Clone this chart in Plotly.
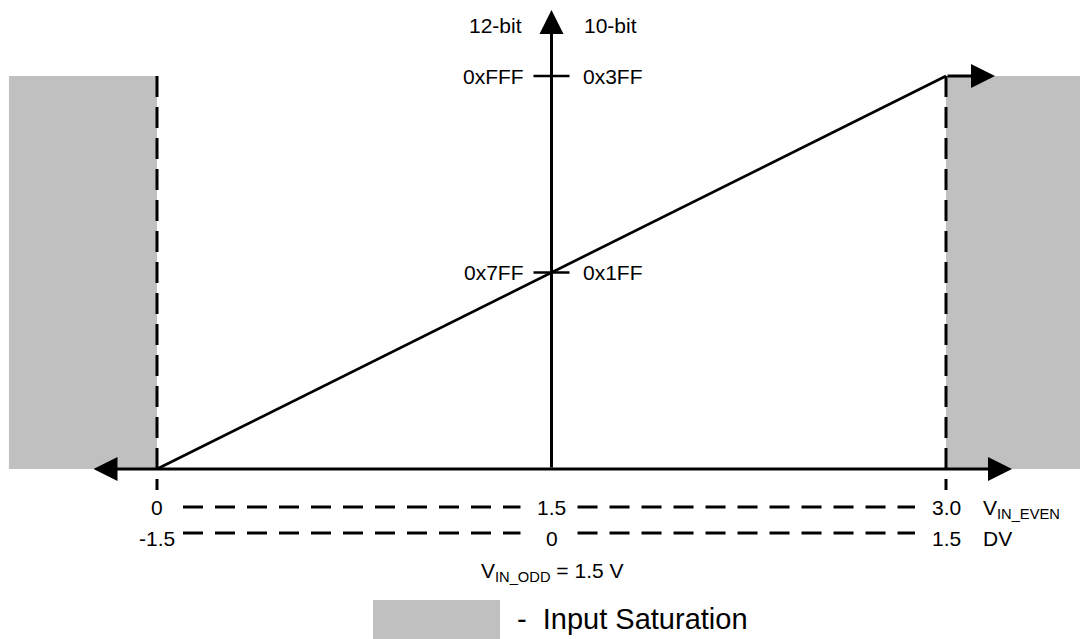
import plotly.graph_objects as go

# input voltage (V_IN_EVEN) and the equivalent differential voltage
vin_even = [0, 1.5, 3.0]
vin_even_labels = ["0", "1.5", "3.0"]
vin_diff_labels = ["-1.5", "0", "1.5"]

# output codes
full_scale = 4095
code_levels = [4095, 2047]
code_12bit = ["0xFFF", "0x7FF"]
code_10bit = ["0x3FF", "0x1FF"]

# transfer function
transfer_x = [0, 3.0]
transfer_y = [0, 4095]

# input saturation regions (V)
sat_left = [-0.563, 0]
sat_right = [3.0, 3.7]

W, H = 1080, 639
PX_X = 263.0             # px per volt
PX_Y = 393.0 / 4095      # px per code
X0, Y0 = 157, 469        # pixel position of (0 V, code 0)


def px_x(p):
    return (p - X0) / PX_X


def px_y(p):
    return (Y0 - p) / PX_Y


FONT = "Liberation Sans, Arial, sans-serif"
BLACK = "#000000"
GRAY = "#c0c0c0"

fig = go.Figure()

# saturation shading
for x0, x1 in (sat_left, sat_right):
    fig.add_shape(type="rect", xref="x", yref="y", x0=x0, x1=x1, y0=0, y1=full_scale,
                  fillcolor=GRAY, line_width=0, layer="below")

# legend swatch
fig.add_shape(type="rect", xref="x", yref="y", x0=px_x(373), x1=px_x(500),
              y0=px_y(600), y1=px_y(660), fillcolor=GRAY, line_width=0, layer="below")

# dashed verticals at the ends of the input range
for xv in (vin_even[0], vin_even[-1]):
    fig.add_trace(go.Scatter(
        x=[xv, xv], y=[full_scale, px_y(490)], mode="lines",
        line=dict(color=BLACK, width=3, dash="21px,10px"), hoverinfo="skip"
    ))

# transfer line
fig.add_trace(go.Scatter(
    x=transfer_x, y=transfer_y, mode="lines",
    line=dict(color=BLACK, width=2.7), hoverinfo="skip"
))

# ticks on the code axis
mid = vin_even[1]
tick_half = 18 / PX_X
tx, ty = [], []
for c in code_levels:
    tx += [mid - tick_half, mid + tick_half, None]
    ty += [c, c, None]
fig.add_trace(go.Scatter(x=tx, y=ty, mode="lines",
                         line=dict(color=BLACK, width=2.5), hoverinfo="skip"))

# dashed guide rows under the axis
gap_l, gap_r = 26 / PX_X, 31 / PX_X
for row_px in (507, 533):
    dx, dy = [], []
    for a, b in zip(vin_even[:-1], vin_even[1:]):
        dx += [a + gap_l, b - gap_r, None]
        dy += [px_y(row_px), px_y(row_px), None]
    fig.add_trace(go.Scatter(x=dx, y=dy, mode="lines",
                             line=dict(color=BLACK, width=3, dash="20px,12px"),
                             hoverinfo="skip"))

arrow = dict(showarrow=True, arrowhead=2, arrowsize=1.6, arrowwidth=3,
             arrowcolor=BLACK, axref="x", ayref="y", xref="x", yref="y",
             text="", standoff=0, startstandoff=0)

# horizontal axis (double arrow)
fig.add_annotation(x=px_x(1012), y=0, ax=px_x(92), ay=0,
                   arrowside="end+start", startarrowhead=2, startarrowsize=1.6, **arrow)
# vertical code axis
fig.add_annotation(x=mid, y=px_y(10), ax=mid, ay=0, **arrow)
# saturated output
fig.add_annotation(x=px_x(995), y=full_scale, ax=transfer_x[-1], ay=full_scale, **arrow)

txt = dict(showarrow=False, xref="x", yref="y",
           font=dict(family=FONT, size=21, color=BLACK))

# axis headers
fig.add_annotation(x=px_x(524), y=px_y(25), text="12-bit", xanchor="right", **txt)
fig.add_annotation(x=px_x(582), y=px_y(25), text="10-bit", xanchor="left", **txt)

# code labels
for c, a, b in zip(code_levels, code_12bit, code_10bit):
    fig.add_annotation(x=mid - 26 / PX_X, y=c, text=a, xanchor="right", **txt)
    fig.add_annotation(x=mid + 29 / PX_X, y=c, text=b, xanchor="left", **txt)

# voltage labels
for v, a, b in zip(vin_even, vin_even_labels, vin_diff_labels):
    fig.add_annotation(x=v, y=px_y(507), text=a, xanchor="center", **txt)
    fig.add_annotation(x=v, y=px_y(538), text=b, xanchor="center", **txt)

fig.add_annotation(x=px_x(981), y=px_y(509), text="V<sub>IN_EVEN</sub>", xanchor="left", **txt)
fig.add_annotation(x=px_x(981), y=px_y(538), text="DV", xanchor="left", **txt)
fig.add_annotation(x=mid, y=px_y(572), text="V<sub>IN_ODD</sub> = 1.5 V", xanchor="center", **txt)

# legend text
fig.add_annotation(x=px_x(515), y=px_y(619), text="-  Input Saturation", xanchor="left",
                   showarrow=False, xref="x", yref="y",
                   font=dict(family=FONT, size=29, color=BLACK))

fig.update_layout(
    width=W, height=H, margin=dict(l=0, r=0, t=0, b=0),
    paper_bgcolor="white", plot_bgcolor="white", showlegend=False,
    xaxis=dict(range=[px_x(0), px_x(W)], visible=False, fixedrange=True),
    yaxis=dict(range=[px_y(H), px_y(0)], visible=False, fixedrange=True),
)

fig.write_html("out.html", config={"displayModeBar": False},
               post_script="document.body.style.margin='0';")
